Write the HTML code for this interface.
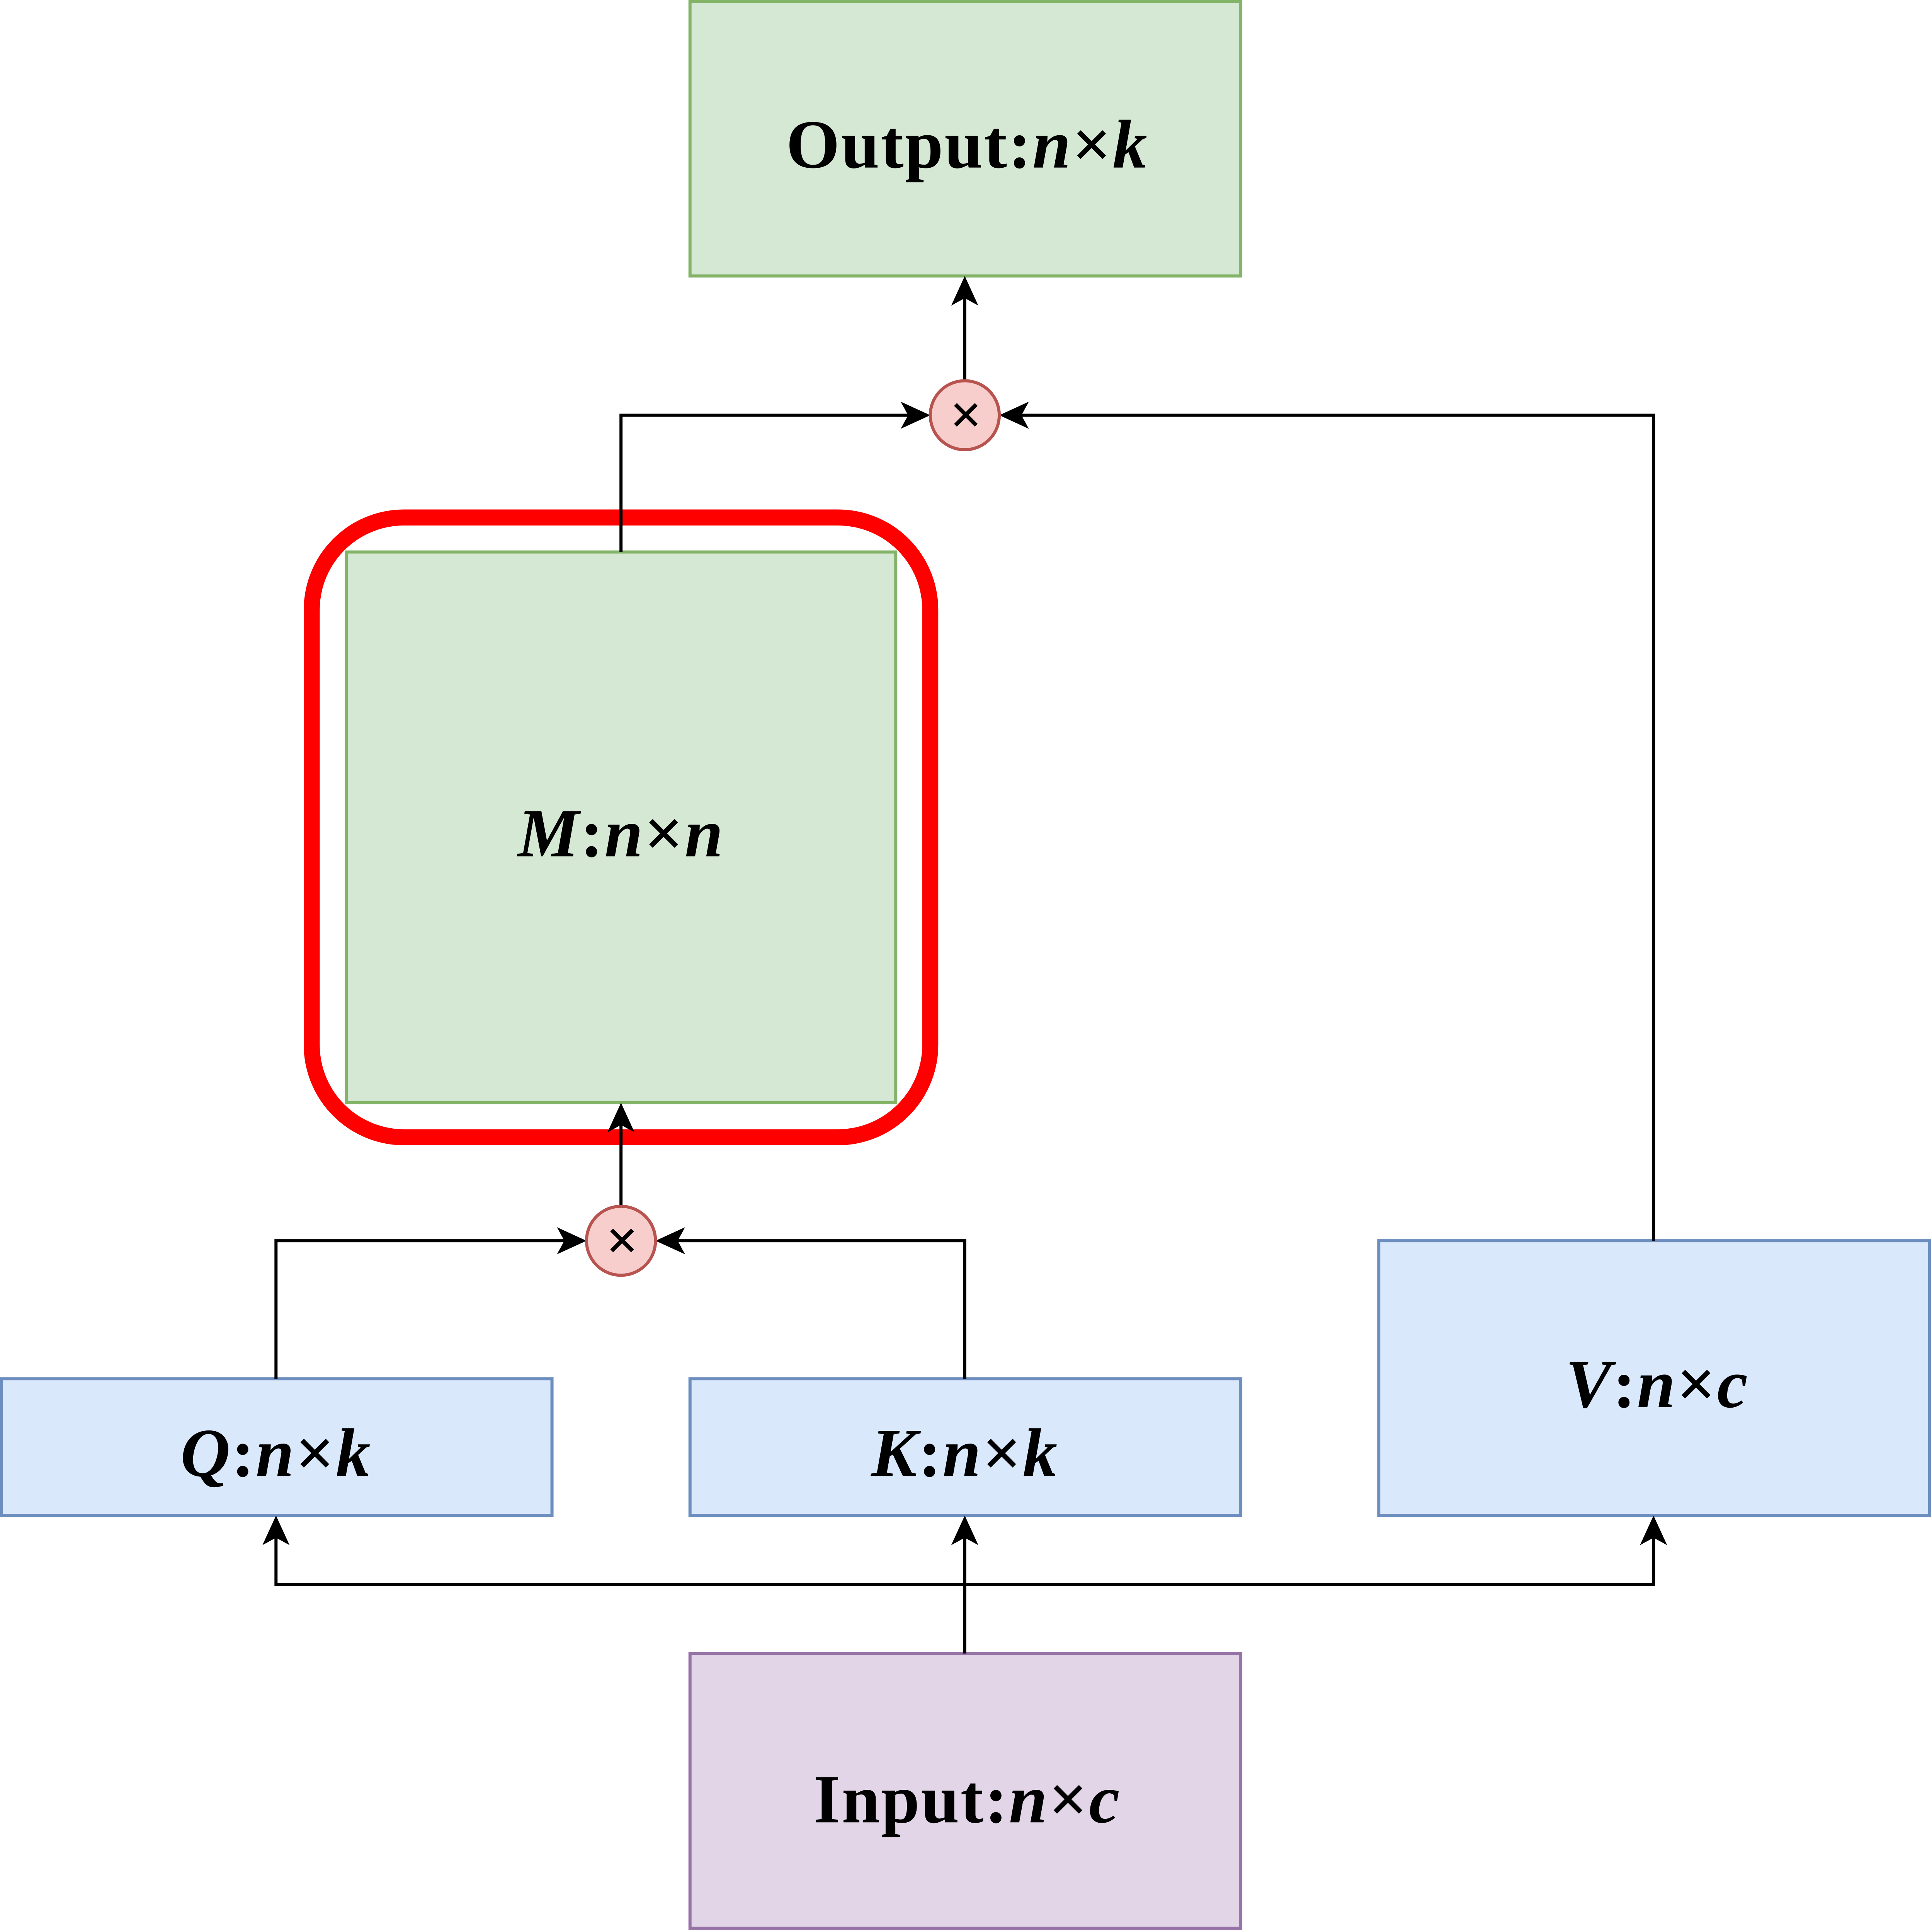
<!DOCTYPE html>
<html><head><meta charset="utf-8"><style>
html,body{margin:0;padding:0;background:#fff;width:100vw;height:100vh;overflow:hidden;}
svg{display:block;width:100vw;height:100vh;}
text{font-family:"Liberation Serif","DejaVu Serif",serif;font-weight:bold;font-size:56px;fill:#000;letter-spacing:1px;}
</style></head><body>
<svg viewBox="0 0 1568 1568" preserveAspectRatio="xMidYMid meet" xmlns="http://www.w3.org/2000/svg">
<rect width="1568" height="1568" fill="#fff"/>
<rect x="560" y="1" width="447" height="223" fill="#d5e8d4" stroke="#82b366" stroke-width="2.5"/>
<rect x="281" y="448" width="446" height="447" fill="#d5e8d4" stroke="#82b366" stroke-width="2.5"/>
<rect x="253" y="420" width="502" height="503" rx="75" ry="75" fill="none" stroke="#ff0000" stroke-width="13"/>
<rect x="1" y="1119" width="447" height="111" fill="#dae8fc" stroke="#6c8ebf" stroke-width="2.5"/>
<rect x="560" y="1119" width="447" height="111" fill="#dae8fc" stroke="#6c8ebf" stroke-width="2.5"/>
<rect x="1119" y="1007" width="447" height="223" fill="#dae8fc" stroke="#6c8ebf" stroke-width="2.5"/>
<rect x="560" y="1342" width="447" height="223" fill="#e1d5e7" stroke="#9673a6" stroke-width="2.5"/>
<g fill="none" stroke="#000" stroke-width="2.5">
<polyline points="504,448 504,337 744,337"/>
<polyline points="1342,1007 1342,337 822,337"/>
<polyline points="783,309 783,236"/>
<polyline points="504,979 504,907"/>
<polyline points="224,1119 224,1007 465,1007"/>
<polyline points="783,1119 783,1007 543,1007"/>
<polyline points="783,1342 783,1242"/>
<polyline points="224,1242 224,1286 1342,1286 1342,1242"/>
</g>
<g fill="#000">
<polygon points="755,337 731,326 737,337 731,348"/>
<polygon points="811,337 835,326 829,337 835,348"/>
<polygon points="783,224 772,248 783,242 794,248"/>
<polygon points="504,895 493,919 504,913 515,919"/>
<polygon points="476,1007 452,996 458,1007 452,1018"/>
<polygon points="532,1007 556,996 550,1007 556,1018"/>
<polygon points="783,1230 772,1254 783,1248 794,1254"/>
<polygon points="224,1230 213,1254 224,1248 235,1254"/>
<polygon points="1342,1230 1331,1254 1342,1248 1353,1254"/>
</g>
<circle cx="783" cy="337" r="28" fill="#f8cecc" stroke="#b85450" stroke-width="2.5"/>
<circle cx="504" cy="1007" r="28" fill="#f8cecc" stroke="#b85450" stroke-width="2.5"/>
<text x="784" y="352" text-anchor="middle" style="font-size:46px;letter-spacing:0">×</text>
<text x="505" y="1022" text-anchor="middle" style="font-size:46px;letter-spacing:0">×</text>
<text x="785" y="136" text-anchor="middle">Output:<tspan font-style="italic">n</tspan>×<tspan font-style="italic">k</tspan></text>
<text x="504" y="695" text-anchor="middle"><tspan font-style="italic">M</tspan>:<tspan font-style="italic">n</tspan>×<tspan font-style="italic">n</tspan></text>
<text x="224" y="1198" text-anchor="middle"><tspan font-style="italic">Q</tspan>:<tspan font-style="italic">n</tspan>×<tspan font-style="italic">k</tspan></text>
<text x="783" y="1198" text-anchor="middle"><tspan font-style="italic">K</tspan>:<tspan font-style="italic">n</tspan>×<tspan font-style="italic">k</tspan></text>
<text x="1345" y="1142" text-anchor="middle"><tspan font-style="italic">V</tspan>:<tspan font-style="italic">n</tspan>×<tspan font-style="italic">c</tspan></text>
<text x="785" y="1479" text-anchor="middle">Input:<tspan font-style="italic">n</tspan>×<tspan font-style="italic">c</tspan></text>
</svg>
</body></html>
